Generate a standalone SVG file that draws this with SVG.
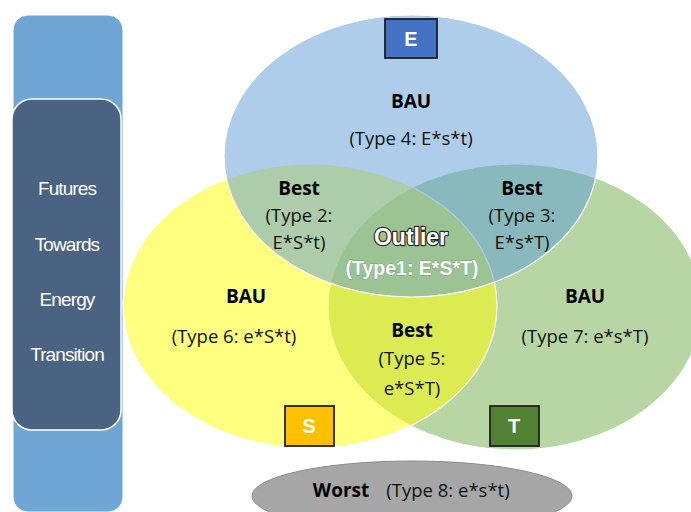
<svg xmlns="http://www.w3.org/2000/svg" width="691" height="512" viewBox="0 0 691 512">
  <style>
    .set { stroke: #ffffff; stroke-width: 1.2; }
    .t { font-family: "Open Sans", "Liberation Sans", sans-serif; font-size: 18.5px; fill: #111111; text-anchor: middle; }
    .b { font-family: "Open Sans", "Liberation Sans", sans-serif; font-size: 19px; font-weight: bold; fill: #000000; text-anchor: middle; }
    .side { font-family: "Liberation Sans", "Noto Sans", sans-serif; font-size: 19px; fill: #ffffff; text-anchor: middle; letter-spacing: -0.9px; }
    .box { stroke: #1f1f1f; stroke-width: 1.8; }
    .boxt { font-family: "Liberation Sans", Arial, sans-serif; font-size: 20px; font-weight: bold; fill: #ffffff; text-anchor: middle; }
    .ctr { font-family: "Liberation Sans", Arial, sans-serif; font-weight: bold; fill: #ffffff; text-anchor: middle; }
  </style>

  <rect width="691" height="512" fill="#ffffff"/>

  <g id="sidebar">
    <rect x="13" y="15" width="110" height="497" rx="15" fill="#6FA6D6" stroke="#ffffff" stroke-width="1"/>
    <rect x="12" y="99" width="109" height="331" rx="20" fill="#4B6382" stroke="#ffffff" stroke-width="1.5"/>
    <text class="side" x="67" y="195">Futures</text>
    <text class="side" x="67" y="251">Towards</text>
    <text class="side" x="67" y="306">Energy</text>
    <text class="side" x="67" y="361">Transition</text>
  </g>

  <g id="set-T">
    <ellipse class="set" cx="515" cy="307" rx="187" ry="143" fill="#70AD47" fill-opacity="0.5"/>
  </g>
  <g id="set-S">
    <ellipse class="set" cx="310" cy="306" rx="187" ry="142" fill="#FFFF00" fill-opacity="0.5"/>
  </g>
  <g id="set-E">
    <ellipse class="set" cx="411" cy="156" rx="187" ry="141" fill="#5B9BD5" fill-opacity="0.5"/>
  </g>

  <g id="label-E">
    <rect class="box" x="385" y="19" width="52" height="39" fill="#4472C4"/>
    <text class="boxt" x="411" y="46">E</text>
  </g>
  <g id="label-S">
    <rect class="box" x="285" y="406" width="49" height="40" fill="#FFC000"/>
    <text class="boxt" x="309" y="433">S</text>
  </g>
  <g id="label-T">
    <rect class="box" x="490" y="406" width="49" height="40" fill="#548235"/>
    <text class="boxt" x="514" y="433">T</text>
  </g>

  <g id="type4">
    <text class="b" x="411" y="108">BAU</text>
    <text class="t" x="411" y="145">(Type 4: E*s*t)</text>
  </g>
  <g id="type2">
    <text class="b" x="299" y="195">Best</text>
    <text class="t" x="299" y="222">(Type 2:</text>
    <text class="t" x="299" y="249">E*S*t)</text>
  </g>
  <g id="type3">
    <text class="b" x="522" y="195">Best</text>
    <text class="t" x="522" y="222">(Type 3:</text>
    <text class="t" x="522" y="249">E*s*T)</text>
  </g>
  <g id="type1">
    <text class="ctr" x="411" y="245" font-size="23" stroke="#2b2b2b" stroke-width="2.4" paint-order="stroke" stroke-linejoin="round">Outlier</text>
    <text class="ctr" x="412" y="275" font-size="19.5" stroke="#7f9f74" stroke-width="0.8" paint-order="stroke">(Type1: E*S*T)</text>
  </g>
  <g id="type6">
    <text class="b" x="246" y="303">BAU</text>
    <text class="t" x="234" y="343">(Type 6: e*S*t)</text>
  </g>
  <g id="type5">
    <text class="b" x="412" y="337">Best</text>
    <text class="t" x="412" y="365">(Type 5:</text>
    <text class="t" x="412" y="395">e*S*T)</text>
  </g>
  <g id="type7">
    <text class="b" x="585" y="303">BAU</text>
    <text class="t" x="585" y="343">(Type 7: e*s*T)</text>
  </g>

  <g id="type8">
    <ellipse cx="412" cy="496" rx="160" ry="35" fill="#A6A6A6" stroke="#8a8a8a" stroke-width="1"/>
    <text class="b" x="341" y="497">Worst</text>
    <text class="t" x="448" y="497">(Type 8: e*s*t)</text>
  </g>
</svg>
